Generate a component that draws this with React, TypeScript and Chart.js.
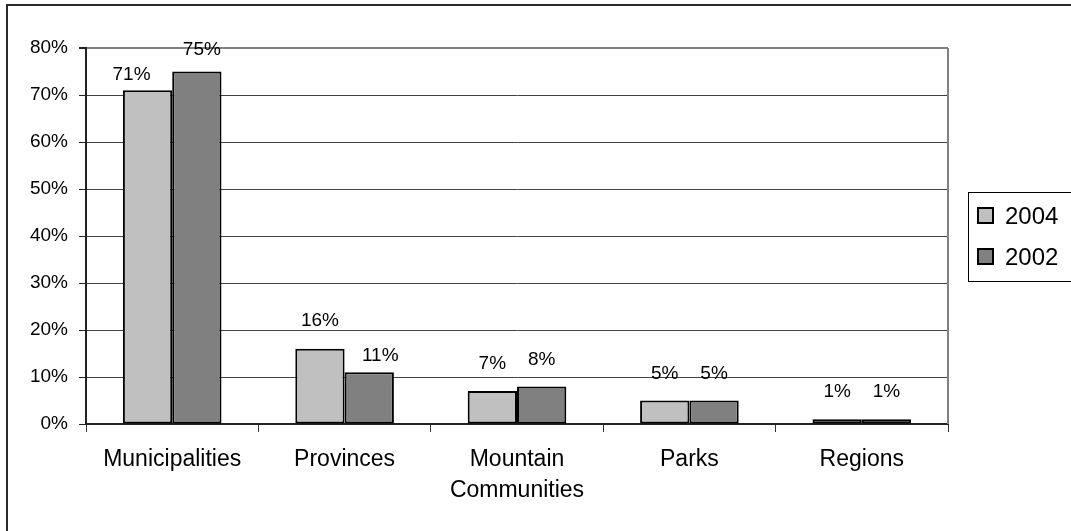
import React, { useEffect, useRef } from "react";
import { Chart, registerables } from "chart.js";

Chart.register(...registerables);

const categories: (string | string[])[] = [
  "Municipalities",
  "Provinces",
  ["Mountain", "Communities"],
  "Parks",
  "Regions",
];
const series2004: number[] = [71, 16, 7, 5, 1];
const series2002: number[] = [75, 11, 8, 5, 1];
const seriesNames: string[] = ["2004", "2002"];
const yTicks: number[] = [0, 10, 20, 30, 40, 50, 60, 70, 80];

// label placement tweaks (style only)
const labelShiftX: number[][] = [
  [-16, 0, 0, 0, 0],
  [5, 11, 0, 0, 0],
];
const labelLift: number[][] = [
  [16, 28, 27, 27, 28],
  [22, 17, 27, 27, 28],
];

const FONT = "'Liberation Sans', Arial, sans-serif";
const fillColors = ["#C0C0C0", "#808080"];

const decorPlugin = {
  id: "decor",
  beforeDraw(chart: any) {
    const ctx = chart.ctx;
    ctx.save();
    ctx.fillStyle = "#fff";
    ctx.fillRect(0, 0, chart.width, chart.height);
    ctx.restore();
  },
  beforeDatasetsDraw(chart: any) {
    const { ctx, chartArea } = chart;
    ctx.save();
    ctx.strokeStyle = "#808080";
    ctx.lineWidth = 2;
    ctx.beginPath();
    ctx.moveTo(chartArea.right, chartArea.top);
    ctx.lineTo(chartArea.right, chartArea.bottom);
    ctx.stroke();
    ctx.restore();
  },
  afterDraw(chart: any) {
    const { ctx } = chart;
    ctx.save();
    // data labels
    ctx.font = `19px ${FONT}`;
    ctx.fillStyle = "#000";
    ctx.textAlign = "center";
    ctx.textBaseline = "middle";
    chart.data.datasets.forEach((ds: any, di: number) => {
      const meta = chart.getDatasetMeta(di);
      meta.data.forEach((bar: any, i: number) => {
        const v = ds.data[i];
        ctx.fillText(
          `${v}%`,
          bar.x + labelShiftX[di][i],
          bar.y - labelLift[di][i]
        );
      });
    });
    // outer frame
    ctx.strokeStyle = "#2a2a2a";
    ctx.lineWidth = 2;
    ctx.beginPath();
    ctx.moveTo(7, chart.height + 2);
    ctx.lineTo(7, 5);
    ctx.lineTo(chart.width + 2, 5);
    ctx.stroke();
    // legend
    ctx.lineWidth = 1;
    ctx.strokeStyle = "#000";
    ctx.strokeRect(968.5, 192.5, 120, 89);
    ctx.font = `24px ${FONT}`;
    ctx.textAlign = "left";
    ctx.textBaseline = "middle";
    const rows = [216, 257];
    chart.data.datasets.forEach((ds: any, di: number) => {
      const cy = rows[di];
      ctx.fillStyle = fillColors[di];
      ctx.fillRect(978, cy - 8, 15, 15);
      ctx.lineWidth = 2;
      ctx.strokeStyle = "#000";
      ctx.strokeRect(978, cy - 8, 15, 15);
      ctx.fillStyle = "#000";
      ctx.fillText(ds.label, 1005, cy + 1);
    });
    ctx.restore();
  },
};

export default function App() {
  const ref = useRef<HTMLCanvasElement | null>(null);
  useEffect(() => {
    if (!ref.current) return;
    const chart = new Chart(ref.current, {
      type: "bar",
      data: {
        labels: categories,
        datasets: [
          {
            label: seriesNames[0],
            data: series2004,
            backgroundColor: fillColors[0],
            borderColor: "#000",
            borderWidth: 2,
            borderSkipped: false,
          },
          {
            label: seriesNames[1],
            data: series2002,
            backgroundColor: fillColors[1],
            borderColor: "#000",
            borderWidth: 2,
            borderSkipped: false,
          },
        ],
      },
      options: {
        animation: false,
        responsive: false,
        maintainAspectRatio: false,
        devicePixelRatio: 1,
        layout: { padding: { left: 0, top: 48, right: 123, bottom: 0 } },
        datasets: {
          bar: { categoryPercentage: 0.572, barPercentage: 1 },
        },
        plugins: {
          legend: { display: false },
          tooltip: { enabled: false },
          title: { display: false },
        },
        scales: {
          x: {
            offset: true,
            grid: {
              display: true,
              offset: true,
              drawOnChartArea: false,
              drawTicks: true,
              tickLength: 8,
              tickColor: "#333",
              tickWidth: 1,
            },
            border: { display: true, color: "#222", width: 2 },
            ticks: {
              color: "#000",
              font: { family: FONT, size: 23, lineHeight: 1.35 },
              padding: 12,
              maxRotation: 0,
              autoSkip: false,
            },
            afterFit(scale: any) {
              scale.height = 107;
            },
          },
          y: {
            min: 0,
            max: 80,
            afterBuildTicks(scale: any) {
              scale.ticks = yTicks.map((v) => ({ value: v }));
            },
            grid: {
              color: (c: any) =>
                c.tick && c.tick.value === 80 ? "#808080" : "#444",
              lineWidth: (c: any) => (c.tick && c.tick.value === 80 ? 2 : 1),
              tickColor: "#222",
              tickLength: 7,
            },
            border: { display: true, color: "#222", width: 2 },
            ticks: {
              color: "#000",
              font: { family: FONT, size: 19 },
              padding: 11,
              callback: (v: any) => `${v}%`,
            },
            afterFit(scale: any) {
              scale.width = 86;
            },
          },
        },
      },
      plugins: [decorPlugin],
    });
    return () => chart.destroy();
  }, []);
  return (
    <div style={{ position: "absolute", left: 0, top: 0, width: 1071, height: 531 }}>
      <canvas ref={ref} width={1071} height={531} style={{ width: 1071, height: 531, display: "block" }} />
    </div>
  );
}
